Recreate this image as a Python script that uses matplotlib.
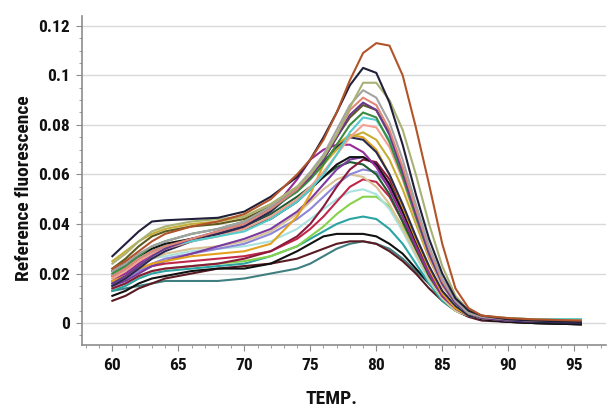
import numpy as np
import matplotlib
matplotlib.use("Agg")
import matplotlib.pyplot as plt
from matplotlib.ticker import MultipleLocator

plt.rcParams['font.family'] = ['Roboto Condensed', 'DejaVu Sans']

# -----------------------------
# Data (fluorescence x 1000)
# -----------------------------
temps = [60, 61, 62, 63, 64, 66, 68, 70, 72, 74, 75, 76, 77, 78, 79, 80,
         81, 82, 83, 84, 85, 86, 87, 88, 90, 92, 95.5]

brown = [22, 25, 29, 33, 36, 39, 41, 44, 50, 60, 66, 74, 85, 98, 109, 113,
         112, 100, 79, 56, 32, 14, 6, 3, 2, 1.5, 1]
navy_black = [27, 32, 37, 41, 41.5, 42, 42.5, 45, 51, 59, 66, 75, 85, 96, 103, 101,
              89, 72, 52, 34, 20, 10, 5, 3, 1.5, 1, 0.5]
olive_gray = [24, 28, 33, 37, 39, 41, 42, 43, 48, 55, 60, 67, 76, 87, 97, 97,
              90, 78, 60, 40, 23, 11, 5, 3, 2, 1.5, 1]
gray = [21, 24, 28, 31, 33, 36, 38, 41, 47, 55, 61, 68, 78, 88, 94, 91,
        81, 66, 48, 31, 18, 9, 4, 2.5, 1.5, 1, 1]
salmon = [19, 22, 26, 29, 31, 34, 37, 40, 46, 54, 60, 67, 76, 86, 91, 88,
          78, 63, 46, 30, 17, 9, 4, 2.5, 1.5, 1, 1]
purple = [16, 19, 23, 27, 30, 34, 37, 40, 46, 54, 59, 66, 75, 84, 89, 86,
          76, 61, 44, 28, 16, 8, 4, 2, 1, 1, 0.5]
dark_olive = [22, 26, 31, 35, 37, 39, 40, 42, 47, 54, 59, 66, 75, 83, 88, 86,
              77, 62, 45, 29, 17, 9, 4, 2.5, 1.5, 1, 1]
green = [20, 23, 27, 31, 33, 36, 38, 41, 46, 53, 58, 64, 72, 80, 85, 83,
         73, 59, 43, 28, 16, 8, 4, 2, 1.5, 1, 1]
cyan = [20, 23, 26, 29, 31, 33, 35, 37, 42, 49, 54, 60, 68, 77, 83, 82,
        74, 60, 43, 28, 16, 8, 4, 2.5, 2, 1.5, 1.5]
pink = [18, 21, 25, 28, 30, 33, 35, 38, 43, 50, 55, 61, 68, 75, 80, 79,
        71, 58, 42, 27, 15, 8, 4, 2, 1.5, 1, 1]
yellow = [25, 29, 33, 36, 38, 40, 41, 43, 48, 55, 59, 64, 70, 75, 77, 74,
          66, 54, 40, 26, 15, 8, 4, 2, 1.5, 1, 1]
dark_navy = [15, 18, 22, 26, 29, 33, 36, 39, 45, 54, 59, 65, 71, 75, 74, 69,
             60, 48, 35, 23, 13, 7, 3, 2, 1, 0.5, 0]
orange = [17, 19, 22, 24, 25, 27, 28, 29, 32, 43, 52, 64, 72, 76, 75, 70,
          60, 47, 34, 22, 12, 6, 3, 2, 1, 1, 0.5]
magenta = [17, 20, 24, 28, 30, 33, 36, 39, 45, 58, 66, 70, 72, 72, 69, 63,
           54, 43, 31, 20, 11, 6, 3, 2, 1, 0.5, 0.5]
black = [21, 24, 27, 30, 32, 34, 36, 38, 42, 49, 54, 59, 64, 67, 67, 64,
         56, 45, 33, 22, 12, 6, 3, 1.5, 0.5, 0, -0.5]
violet = [15, 17, 20, 23, 25, 28, 31, 34, 38, 45, 50, 56, 62, 66, 67, 64,
          56, 45, 32, 20, 11, 6, 3, 1.5, 1, 0.5, 0]
maroon = [14, 16, 19, 21, 22, 23, 24, 26, 29, 35, 40, 47, 55, 62, 66, 65,
          58, 47, 34, 22, 12, 6, 3, 1.5, 1, 0.5, 0]
dark_green = [19, 22, 26, 29, 31, 34, 36, 39, 44, 51, 55, 59, 63, 65, 64, 60,
              52, 41, 30, 19, 11, 6, 3, 2, 1, 1, 0.5]
lavender = [16, 18, 21, 24, 26, 28, 30, 32, 36, 42, 46, 51, 56, 60, 62, 61,
            55, 45, 33, 21, 12, 6, 3, 2, 1, 1, 0.5]
tan = [18, 20, 23, 26, 28, 30, 31, 33, 37, 44, 49, 54, 58, 60, 59, 55,
       48, 38, 28, 18, 10, 5, 3, 2, 1, 1, 0.5]
crimson = [16, 18, 21, 23, 24, 25, 26, 27, 29, 34, 38, 43, 49, 55, 58, 57,
           51, 41, 30, 19, 11, 6, 3, 1.5, 1, 0.5, 0]
light_cyan = [19, 21, 24, 26, 27, 29, 30, 31, 33, 38, 42, 46, 50, 53, 54, 52,
              46, 37, 27, 17, 10, 5, 3, 2, 1.5, 1.5, 1.5]
light_green = [14, 16, 19, 21, 22, 23, 24, 25, 27, 31, 35, 39, 44, 48, 51, 51,
               47, 39, 29, 18, 10, 5, 3, 2, 1.5, 1, 1]
teal = [13, 15, 18, 20, 21, 22, 23, 24, 27, 31, 34, 37, 40, 42, 43, 42,
        38, 32, 24, 16, 9, 5, 3, 2, 1.5, 1.5, 1.5]
black_low = [11, 13, 16, 18, 19, 21, 22, 22, 24, 29, 32, 35, 36, 36, 36, 35,
             32, 28, 22, 16, 10, 6, 3, 1.5, 0.5, 0, -0.5]
dark_red = [9, 11, 14, 16, 18, 20, 22, 23, 24, 26, 28, 30, 32, 33, 33, 32,
            29, 25, 20, 14, 9, 5, 2.5, 1, 0.5, 0, -0.5]
teal_low = [13, 14, 15, 16, 17, 17, 17, 18, 20, 22, 24, 27, 30, 32, 33, 32,
            30, 26, 21, 16, 11, 7, 4, 2.5, 1.5, 1.5, 1.5]

series = [
    (teal_low, '#3f7f80'), (dark_red, '#5a1a22'), (black_low, '#111111'),
    (teal, '#2aa3a3'), (light_green, '#86d24a'), (light_cyan, '#a9e2e0'),
    (crimson, '#c0284a'), (tan, '#d9c395'), (lavender, '#8d86d8'),
    (dark_green, '#1f5a30'), (maroon, '#8a1a3c'), (violet, '#7a3aa0'),
    (black, '#141414'), (magenta, '#962a96'), (orange, '#e3a11f'),
    (dark_navy, '#2a2a4e'), (yellow, '#c6ae35'), (pink, '#f2a08f'),
    (cyan, '#56cccc'), (green, '#3a8c42'), (dark_olive, '#5c5a1e'),
    (purple, '#663a8c'), (salmon, '#e08878'), (gray, '#a3a3a3'),
    (olive_gray, '#a8b274'), (navy_black, '#20203a'), (brown, '#b1542a'),
]

# -----------------------------
# Plot
# -----------------------------
fig = plt.figure(figsize=(6.12, 4.07), dpi=100)
ax = fig.add_axes([0.134, 0.152, 0.856, 0.809])

for vals, col in series:
    ax.plot(temps, np.array(vals) / 1000.0, color=col, lw=1.5, solid_joinstyle='round')

ax.set_xlim(57.7, 97.4)
ax.set_ylim(-0.0089, 0.124)
ax.set_xticks([60, 65, 70, 75, 80, 85, 90, 95])
ax.set_yticks([0, 0.02, 0.04, 0.06, 0.08, 0.1, 0.12])
ax.set_yticklabels(['0', '0.02', '0.04', '0.06', '0.08', '0.1', '0.12'])
ax.xaxis.set_minor_locator(MultipleLocator(1))
ax.yaxis.set_minor_locator(MultipleLocator(0.005))

ax.grid(axis='y', which='major', color='#d9d9d9', lw=1)
ax.set_axisbelow(True)
for s in ['top', 'right']:
    ax.spines[s].set_visible(False)
for s in ['left', 'bottom']:
    ax.spines[s].set_color('#8c8c8c')
    ax.spines[s].set_linewidth(1.2)

ax.tick_params(which='major', length=4, color='#8c8c8c', labelsize=12.5,
               labelcolor='#111111', pad=5)
ax.tick_params(which='minor', length=2.5, color='#8c8c8c')
for lab in ax.get_xticklabels() + ax.get_yticklabels():
    lab.set_fontweight('bold')

ax.set_xlabel('TEMP.', fontsize=14, fontweight='bold', color='#111111')
ax.set_ylabel('Reference fluorescence', fontsize=14, fontweight='bold', color='#111111')
ax.xaxis.set_label_coords(0.477, -0.137)
ax.yaxis.set_label_coords(-0.094, 0.477)

fig.savefig('out.png', dpi=100)
